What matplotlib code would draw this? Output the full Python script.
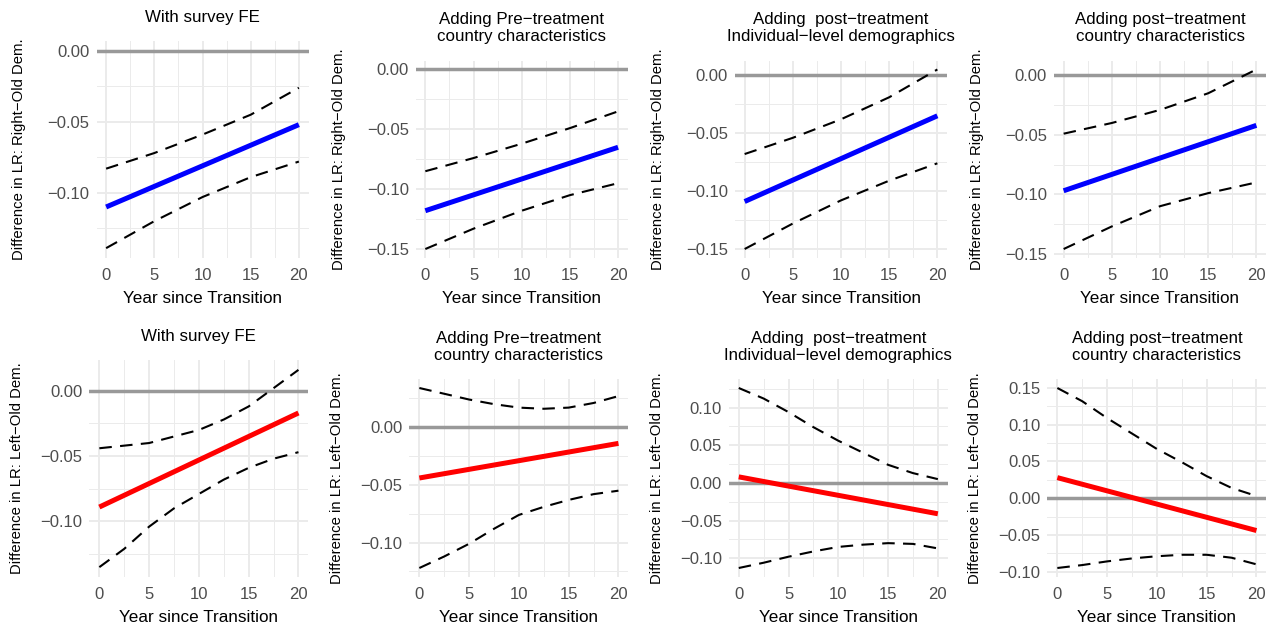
import matplotlib.pyplot as plt
from matplotlib.ticker import MultipleLocator, FuncFormatter

plt.rcParams["font.family"] = ["Liberation Sans", "DejaVu Sans"]

titles = [
    "With survey FE",
    "Adding Pre\u2212treatment\ncountry characteristics",
    "Adding  post\u2212treatment\nIndividual\u2212level demographics",
    "Adding post\u2212treatment\ncountry characteristics",
]
ylab_right = "Difference in LR: Right\u2212Old Dem."
ylab_left = "Difference in LR: Left\u2212Old Dem."
xlab = "Year since Transition"

# estimate lines (x = 0 and x = 20)
x_est = [0, 20]
right_est = [[-0.110, -0.052], [-0.118, -0.065], [-0.109, -0.035], [-0.097, -0.042]]
left_est = [[-0.089, -0.017], [-0.044, -0.014], [0.008, -0.041], [0.028, -0.044]]

# confidence bounds, top row
x_top = [0, 5, 10, 15, 20]
right_hi = [
    [-0.083, -0.072, -0.059, -0.045, -0.026],
    [-0.085, -0.074, -0.062, -0.049, -0.035],
    [-0.068, -0.054, -0.038, -0.019, 0.005],
    [-0.049, -0.040, -0.029, -0.015, 0.005],
]
right_lo = [
    [-0.139, -0.120, -0.103, -0.089, -0.078],
    [-0.150, -0.133, -0.118, -0.105, -0.095],
    [-0.150, -0.128, -0.108, -0.091, -0.076],
    [-0.146, -0.127, -0.110, -0.099, -0.090],
]

# confidence bounds, bottom row
x_bot = [0, 2.5, 5, 7.5, 10, 12.5, 15, 17.5, 20]
left_hi = [
    [-0.044, -0.042, -0.040, -0.035, -0.030, -0.022, -0.012, 0.002, 0.016],
    [0.034, 0.029, 0.024, 0.020, 0.017, 0.016, 0.017, 0.021, 0.027],
    [0.126, 0.112, 0.094, 0.074, 0.056, 0.040, 0.024, 0.013, 0.005],
    [0.150, 0.132, 0.109, 0.088, 0.067, 0.049, 0.030, 0.014, 0.003],
]
left_lo = [
    [-0.135, -0.121, -0.104, -0.090, -0.079, -0.068, -0.059, -0.052, -0.047],
    [-0.122, -0.112, -0.101, -0.088, -0.076, -0.069, -0.063, -0.058, -0.055],
    [-0.113, -0.106, -0.098, -0.091, -0.085, -0.082, -0.080, -0.081, -0.087],
    [-0.095, -0.091, -0.086, -0.082, -0.079, -0.077, -0.077, -0.081, -0.090],
]

W, H = 1276, 631
fig = plt.figure(figsize=(W / 100, H / 100), dpi=100)

# panel boxes in pixels
top_left = [96.5, 415.7, 735, 1054]
bot_left = [89.4, 409.4, 728.8, 1047.4]


def fmt(v, pos):
    s = f"{v:.2f}"
    if s == "-0.00":
        s = "0.00"
    return s.replace("-", "\u2212")


def panel(left, width, top, bottom, title, ylab, ylab_off, xs, lo, hi, est, color):
    ax = fig.add_axes([left / W, 1 - bottom / H, width / W, (bottom - top) / H])
    ax.plot(xs, hi, color="black", lw=1.5, dashes=(6, 4), zorder=3)
    ax.plot(xs, lo, color="black", lw=1.5, dashes=(6, 4), zorder=3)
    ax.plot(x_est, est, color=color, lw=3.6, solid_capstyle="butt", zorder=4)
    ax.axhline(0, color="#999999", lw=2.5, zorder=2)

    ymin = min(min(lo), 0)
    ymax = max(max(hi), 0)
    pad = (ymax - ymin) * 0.05
    ax.set_ylim(ymin - pad, ymax + pad)
    ax.set_xlim(-1, 21)

    ax.xaxis.set_major_locator(MultipleLocator(5))
    ax.xaxis.set_minor_locator(MultipleLocator(2.5))
    ax.yaxis.set_major_locator(MultipleLocator(0.05))
    ax.yaxis.set_minor_locator(MultipleLocator(0.025))
    ax.yaxis.set_major_formatter(FuncFormatter(fmt))
    ax.grid(which="major", color="#EBEBEB", lw=1.4, zorder=0)
    ax.grid(which="minor", color="#EBEBEB", lw=0.7, zorder=0)
    ax.set_axisbelow(True)
    for s in ax.spines.values():
        s.set_visible(False)
    ax.tick_params(which="both", length=0, labelsize=12, labelcolor="#4D4D4D")
    ax.tick_params(axis="x", pad=7)
    ax.tick_params(axis="y", pad=5)

    ax.set_title(title, fontsize=12.2, pad=14, linespacing=1.15)
    ax.set_xlabel(xlab, fontsize=12.3)
    ax.set_ylabel(ylab, fontsize=10.7)
    h = bottom - top
    ax.xaxis.set_label_coords(0.5, -41 / h)
    ax.xaxis.label.set_va("center")
    ax.yaxis.set_label_coords(-ylab_off / width, 0.5)
    ax.yaxis.label.set_va("center")
    return ax


for i in range(4):
    top = 41 if i == 0 else 60.5
    panel(top_left[i], 212, top, 258, titles[i], ylab_right, 77,
          x_top, right_lo[i], right_hi[i], right_est[i], "#0000FF")
    top = 360 if i == 0 else 379
    panel(bot_left[i], 219, top, 577, titles[i], ylab_left, 72,
          x_bot, left_lo[i], left_hi[i], left_est[i], "#FF0000")

fig.savefig("out.png", dpi=100, facecolor="white")
